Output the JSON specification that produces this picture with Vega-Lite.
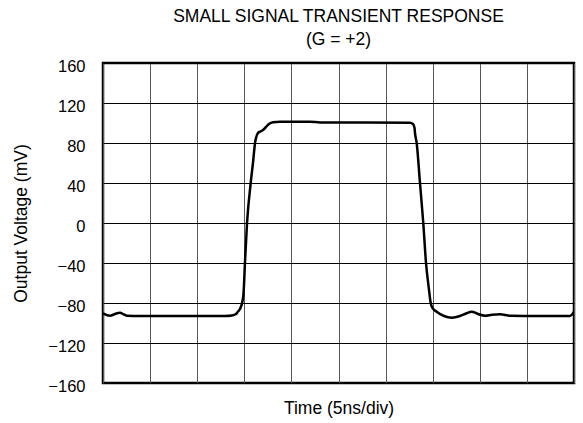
{
  "$schema": "https://vega.github.io/schema/vega-lite/v6.json",
  "autosize": {"type": "none"},
  "padding": {"left": 103, "top": 63, "right": 9, "bottom": 40},
  "width": 471,
  "height": 320,
  "title": {
    "text": ["SMALL SIGNAL TRANSIENT RESPONSE", "(G = +2)"],
    "anchor": "middle",
    "font": "Liberation Sans",
    "fontSize": 17.5,
    "fontWeight": "normal",
    "color": "#000000",
    "lineHeight": 23,
    "offset": 10
  },
  "config": {
    "view": {"stroke": "#000000", "strokeWidth": 2.5},
    "font": "Liberation Sans"
  },
  "data": {
    "values": [
      {"t": 0.0, "v": -90.3},
      {"t": 0.74, "v": -92.7},
      {"t": 1.27, "v": -91.0},
      {"t": 1.8, "v": -89.7},
      {"t": 2.23, "v": -91.5},
      {"t": 2.55, "v": -92.7},
      {"t": 3.93, "v": -93.0},
      {"t": 8.17, "v": -93.0},
      {"t": 12.95, "v": -93.0},
      {"t": 13.69, "v": -92.5},
      {"t": 14.12, "v": -91.0},
      {"t": 14.33, "v": -88.5},
      {"t": 14.54, "v": -86.0},
      {"t": 14.83, "v": -77.0},
      {"t": 14.92, "v": -70.0},
      {"t": 15.07, "v": -40.0},
      {"t": 15.29, "v": 0.0},
      {"t": 15.68, "v": 40.0},
      {"t": 15.92, "v": 60.0},
      {"t": 16.14, "v": 80.0},
      {"t": 16.24, "v": 85.0},
      {"t": 16.45, "v": 90.0},
      {"t": 16.67, "v": 91.3},
      {"t": 16.99, "v": 93.0},
      {"t": 17.3, "v": 96.0},
      {"t": 17.62, "v": 99.0},
      {"t": 18.05, "v": 100.7},
      {"t": 18.79, "v": 101.3},
      {"t": 21.97, "v": 101.3},
      {"t": 23.04, "v": 100.5},
      {"t": 32.59, "v": 100.3},
      {"t": 32.91, "v": 99.0},
      {"t": 33.07, "v": 95.0},
      {"t": 33.12, "v": 90.0},
      {"t": 33.3, "v": 80.0},
      {"t": 33.65, "v": 40.0},
      {"t": 34.0, "v": 0.0},
      {"t": 34.29, "v": -40.0},
      {"t": 34.61, "v": -67.0},
      {"t": 34.79, "v": -80.0},
      {"t": 34.98, "v": -85.0},
      {"t": 35.42, "v": -88.7},
      {"t": 36.2, "v": -93.0},
      {"t": 37.02, "v": -94.7},
      {"t": 37.9, "v": -93.0},
      {"t": 38.54, "v": -90.5},
      {"t": 39.14, "v": -88.7},
      {"t": 39.81, "v": -91.0},
      {"t": 40.55, "v": -92.7},
      {"t": 41.29, "v": -91.8},
      {"t": 42.15, "v": -91.3},
      {"t": 43.21, "v": -92.7},
      {"t": 46.39, "v": -93.0},
      {"t": 49.57, "v": -93.0},
      {"t": 50.0, "v": -88.7}
    ]
  },
  "mark": {"type": "line", "color": "#000000", "strokeWidth": 2.5, "interpolate": "monotone", "clip": true},
  "encoding": {
    "x": {
      "field": "t",
      "type": "quantitative",
      "scale": {"domain": [0, 50], "nice": false, "zero": false},
      "axis": {
        "title": "Time (5ns/div)",
        "values": [0, 5, 10, 15, 20, 25, 30, 35, 40, 45, 50],
        "labels": false,
        "ticks": false,
        "domain": false,
        "grid": true,
        "gridColor": "#555555",
        "gridWidth": 1,
        "gridOpacity": 1,
        "titleFont": "Liberation Sans",
        "titleFontSize": 17.5,
        "titleFontWeight": "normal",
        "titleColor": "#000000",
        "titleBaseline": "alphabetic",
        "titleX": 235.5,
        "titleY": 30
      }
    },
    "y": {
      "field": "v",
      "type": "quantitative",
      "scale": {"domain": [-160, 160], "nice": false, "zero": false},
      "axis": {
        "title": "Output Voltage (mV)",
        "values": [-160, -120, -80, -40, 0, 40, 80, 120, 160],
        "ticks": false,
        "domain": false,
        "grid": true,
        "gridColor": "#000000",
        "gridWidth": 1,
        "gridOpacity": 1,
        "labelFont": "Liberation Sans",
        "labelFontSize": 16.5,
        "labelColor": "#000000",
        "labelPadding": 18,
        "labelOffset": 3,
        "labelBaseline": "middle",
        "titleFont": "Liberation Sans",
        "titleFontSize": 17.5,
        "titleFontWeight": "normal",
        "titleColor": "#000000",
        "titleAngle": -90,
        "titleAlign": "center",
        "titleBaseline": "middle",
        "titleX": -82,
        "titleY": 160
      }
    }
  }
}
